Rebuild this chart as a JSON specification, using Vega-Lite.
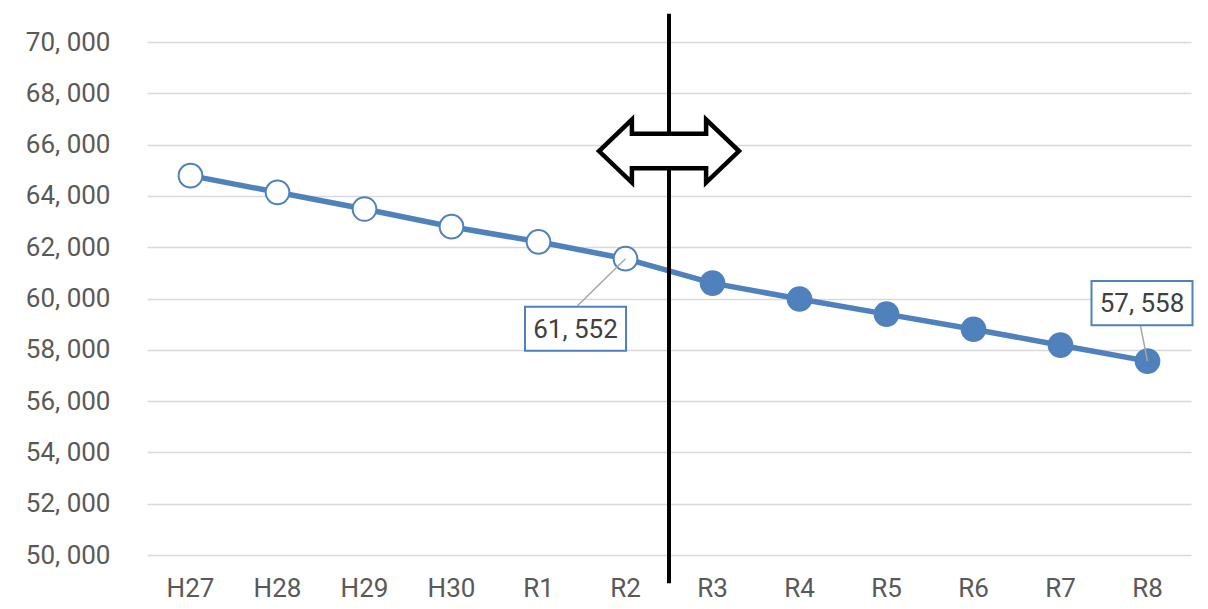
{
  "$schema": "https://vega.github.io/schema/vega-lite/v6.json",
  "width": 1044,
  "height": 513,
  "autosize": {"type": "none"},
  "padding": {"left": 147, "top": 42, "right": 17, "bottom": 54},
  "background": "white",
  "config": {
    "view": {"stroke": null},
    "font": "Roboto",
    "axis": {"labelFont": "Roboto", "labelFontSize": 26, "labelColor": "#595959"}
  },
  "data": {
    "values": [
      {"year": "H27", "value": 64790, "kind": "実績"},
      {"year": "H28", "value": 64140, "kind": "実績"},
      {"year": "H29", "value": 63490, "kind": "実績"},
      {"year": "H30", "value": 62800, "kind": "実績"},
      {"year": "R1", "value": 62210, "kind": "実績"},
      {"year": "R2", "value": 61552, "kind": "実績", "label": "61, 552"},
      {"year": "R3", "value": 60600, "kind": "推計"},
      {"year": "R4", "value": 59980, "kind": "推計"},
      {"year": "R5", "value": 59390, "kind": "推計"},
      {"year": "R6", "value": 58800, "kind": "推計"},
      {"year": "R7", "value": 58180, "kind": "推計"},
      {"year": "R8", "value": 57558, "kind": "推計", "label": "57, 558"}
    ]
  },
  "encoding": {
    "x": {
      "field": "year", "type": "nominal", "sort": null,
      "scale": {"type": "band", "paddingInner": 0, "paddingOuter": 0,
        "domain": ["H27","H28","H29","H30","R1","R2","R3","R4","R5","R6","R7","R8"]},
      "axis": {"title": null, "labelAngle": 0, "domain": false, "ticks": false, "tickSize": 0, "grid": false, "labelPadding": 20, "labelBaseline": "top"}
    },
    "y": {
      "field": "value", "type": "quantitative",
      "scale": {"domain": [50000, 70000], "nice": false, "zero": false},
      "axis": {"title": null, "domain": false, "ticks": false, "tickSize": 0, "grid": true, "gridColor": "#D9D9D9", "gridWidth": 1.5,
        "labelPadding": 37,
        "values": [50000,52000,54000,56000,58000,60000,62000,64000,66000,68000,70000],
        "labelExpr": "replace(format(datum.value, ','), ',', ', ')"}
    }
  },
  "layer": [
    {"mark": {"type": "line", "color": "#4F81BD", "strokeWidth": 5.5}},
    {
      "transform": [{"filter": "datum.year === 'R3'"}],
      "mark": {"type": "rule", "color": "black", "strokeWidth": 4},
      "encoding": {
        "x": {"field": "year", "type": "nominal", "bandPosition": 0},
        "y": {"datum": 71100},
        "y2": {"datum": 48900}
      }
    },
    {
      "transform": [{"filter": "datum.year === 'R3'"}],
      "mark": {"type": "point", "filled": true, "fill": "white", "stroke": "black", "strokeWidth": 4.5, "opacity": 1, "fillOpacity": 1, "strokeJoin": "miter",
        "shape": "M -1 0 L -0.53 -0.45 L -0.53 -0.245 L 0.53 -0.245 L 0.53 -0.45 L 1 0 L 0.53 0.45 L 0.53 0.245 L -0.53 0.245 L -0.53 0.45 Z",
        "size": 19600},
      "encoding": {
        "x": {"field": "year", "type": "nominal", "bandPosition": 0},
        "y": {"datum": 65750}
      }
    },
    {
      "mark": {"type": "point", "filled": true, "size": 560, "stroke": "#4F81BD", "strokeWidth": 2, "opacity": 1, "fillOpacity": 1},
      "encoding": {
        "fill": {"field": "kind", "type": "nominal", "scale": {"domain": ["実績", "推計"], "range": ["white", "#4F81BD"]}, "legend": null}
      }
    },
    {
      "transform": [{"filter": "datum.year === 'R2'"}],
      "mark": {"type": "rule", "color": "#A6A6A6", "strokeWidth": 1.5, "x2Offset": -48, "y2Offset": 47},
      "encoding": {"x2": {"field": "year"}, "y2": {"field": "value"}}
    },
    {
      "transform": [{"filter": "datum.year === 'R8'"}],
      "mark": {"type": "rule", "color": "#A6A6A6", "strokeWidth": 1.5, "x2Offset": -7, "y2Offset": -35},
      "encoding": {"x2": {"field": "year"}, "y2": {"field": "value"}}
    },
    {
      "transform": [{"filter": "datum.year === 'R2'"}],
      "mark": {"type": "point", "filled": true, "fill": "white", "stroke": "#4F81BD", "strokeWidth": 2, "opacity": 1, "fillOpacity": 1,
        "shape": "M -1 -0.436 L 1 -0.436 L 1 0.436 L -1 0.436 Z", "size": 10201, "xOffset": -50, "yOffset": 70}
    },
    {
      "transform": [{"filter": "datum.year === 'R2'"}],
      "mark": {"type": "text", "font": "Roboto", "fontSize": 26, "color": "#404040", "align": "center", "baseline": "middle", "dx": -50, "dy": 71},
      "encoding": {"text": {"field": "label"}}
    },
    {
      "transform": [{"filter": "datum.year === 'R8'"}],
      "mark": {"type": "point", "filled": true, "fill": "white", "stroke": "#4F81BD", "strokeWidth": 2, "opacity": 1, "fillOpacity": 1,
        "shape": "M -1 -0.436 L 1 -0.436 L 1 0.436 L -1 0.436 Z", "size": 10201, "xOffset": -5.5, "yOffset": -58}
    },
    {
      "transform": [{"filter": "datum.year === 'R8'"}],
      "mark": {"type": "text", "font": "Roboto", "fontSize": 26, "color": "#404040", "align": "center", "baseline": "middle", "dx": -5.5, "dy": -57},
      "encoding": {"text": {"field": "label"}}
    }
  ]
}
